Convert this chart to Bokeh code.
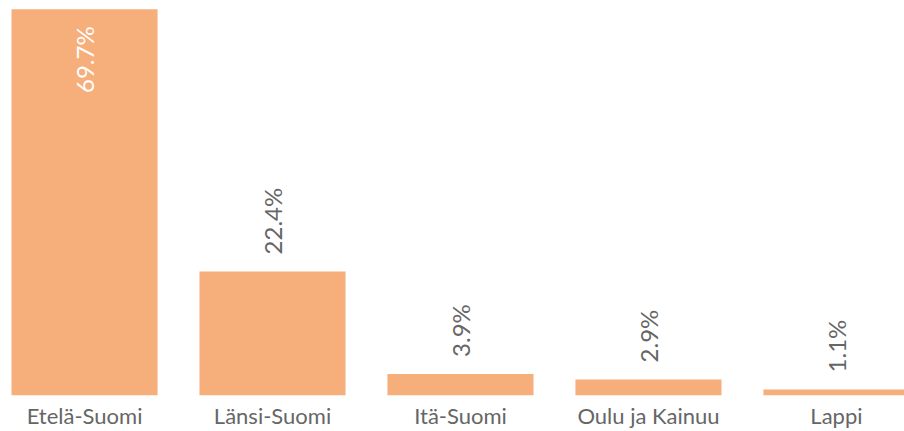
from bokeh.plotting import figure
from bokeh.models import ColumnDataSource, Range1d, FixedTicker
from bokeh.core.properties import value
from bokeh.embed import file_html
from bokeh.resources import INLINE

regions = ["Etelä-Suomi", "Länsi-Suomi", "Itä-Suomi", "Oulu ja Kainuu", "Lappi"]
shares = [69.7, 22.4, 3.9, 2.9, 1.1]

BAR = "#F6AE7B"
GREY = "#666666"
FONT = "Lato"

xs = list(range(len(regions)))
labels = [f"{v}%" for v in shares]
inside = [v > 50 for v in shares]

p = figure(width=904, height=431, output_backend="svg", toolbar_location=None,
           x_range=Range1d(-0.447, 4.362), y_range=Range1d(0, 71.3),
           min_border_left=0, min_border_right=0, min_border_top=0, min_border_bottom=0)

src = ColumnDataSource(dict(x=xs, top=shares))
p.vbar(x="x", top="top", width=0.777, bottom=0, source=src, color=BAR, line_color=None)

out_src = ColumnDataSource(dict(x=[x for x, i in zip(xs, inside) if not i],
                                y=[v for v, i in zip(shares, inside) if not i],
                                t=[l for l, i in zip(labels, inside) if not i]))
in_src = ColumnDataSource(dict(x=[x for x, i in zip(xs, inside) if i],
                               y=[v for v, i in zip(shares, inside) if i],
                               t=[l for l, i in zip(labels, inside) if i]))

p.text(x="x", y="y", text="t", source=out_src, angle=1.5708, text_align="left",
       text_baseline="middle", y_offset=-17, text_color=GREY,
       text_font=value(FONT), text_font_size="24px")
p.text(x="x", y="y", text="t", source=in_src, angle=1.5708, text_align="right",
       text_baseline="middle", y_offset=17, text_color="white",
       text_font=value(FONT), text_font_size="24px")

p.xaxis.ticker = FixedTicker(ticks=xs)
p.xaxis.major_label_overrides = {i: r for i, r in enumerate(regions)}
p.xaxis.major_label_text_font = FONT
p.xaxis.major_label_text_font_size = "22px"
p.xaxis.major_label_text_color = GREY
p.xaxis.major_label_standoff = 6
p.xaxis.axis_line_color = None
p.xaxis.major_tick_line_color = None
p.xaxis.minor_tick_line_color = None
p.xaxis.major_tick_out = 0
p.xaxis.major_tick_in = 0
p.yaxis.visible = False
p.xgrid.visible = False
p.ygrid.visible = False
p.outline_line_color = None

open("out.html", "w").write(file_html(p, INLINE))
